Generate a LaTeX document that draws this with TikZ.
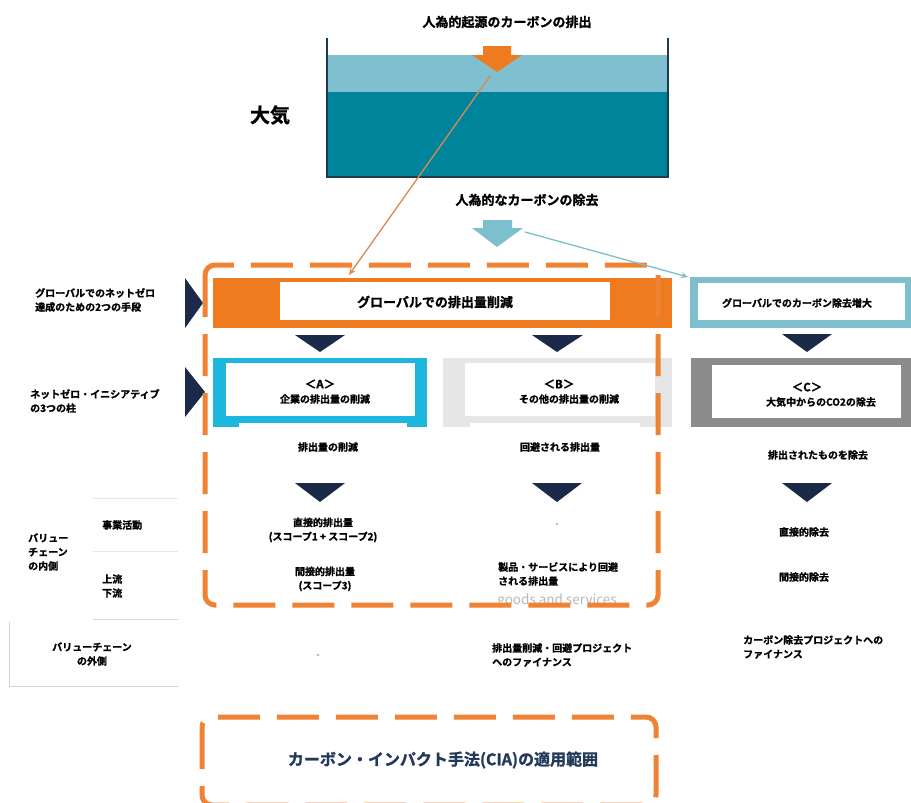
\documentclass[tikz,border=0pt]{standalone}
\usepackage{fontspec}
\setmainfont{Noto Sans CJK JP}[BoldFont={Noto Sans CJK JP Bold},BoldFeatures={FakeBold=1.2}]
\usetikzlibrary{arrows.meta}
\definecolor{orng}{HTML}{EE7B20}
\definecolor{dorng}{HTML}{EF8233}
\definecolor{thinorng}{HTML}{D98A52}
\definecolor{cyanA}{HTML}{1DB6DE}
\definecolor{lblue}{HTML}{7DBFCC}
\definecolor{tanklight}{HTML}{80BFCF}
\definecolor{tankdark}{HTML}{00849B}
\definecolor{tankwall}{HTML}{1E3C4E}
\definecolor{navy}{HTML}{1B2A48}
\definecolor{grayB}{HTML}{E6E6E6}
\definecolor{grayC}{HTML}{8C8C8C}
\definecolor{ciatext}{HTML}{23395A}
\tikzset{
  lbl/.style={font=\bfseries\fontsize{10}{14}\selectfont, inner sep=0pt, align=center},
  lbll/.style={lbl, align=left, anchor=west},
  big/.style={font=\bfseries\fontsize{13}{16}\selectfont, inner sep=0pt},
  scopebox/.style={draw=dorng, line width=5pt, dash pattern=on 42pt off 17pt, rounded corners=10pt},
  faint/.style={draw=gray!18, line width=0.8pt},
  navytri/.style={fill=navy},
}
\begin{document}
\begin{tikzpicture}[x=1pt,y=-1pt]
\useasboundingbox[fill=white] (0,0) rectangle (911,803);

% tank
\fill[tanklight] (327,55) rectangle (668,92);
\fill[tankdark] (327,92) rectangle (668,177);
\draw[tankwall, line width=1.2pt] (327,38) -- (327,177) -- (668,177) -- (668,38);

% orange emission arrow
\fill[orng] (483,46) -- (511,46) -- (511,55) -- (522,55) -- (497,72) -- (472,55) -- (483,55) -- cycle;
% light blue removal arrow
\fill[lblue] (483,220) -- (512,220) -- (512,228) -- (523,228) -- (497,247) -- (472,228) -- (483,228) -- cycle;

\node[big] (emis) at (507,22) {人為的起源のカーボンの排出};
\node[big] (remov) at (527,200) {人為的なカーボンの除去};
\node[font=\bfseries\fontsize{20}{22}\selectfont, inner sep=0pt] (atm) at (270,115) {大気};

% orange bar
\fill[orng] (213,278) rectangle (672,328);
\fill[white] (280,282) rectangle (610,320);
\node[big] (glred) at (435,302) {グローバルでの排出量削減};

% light blue bar
\fill[lblue] (690,277) rectangle (911,328);
\fill[white] (698,283) rectangle (905,320);
\node[lbl] (glrem) at (797,303) {グローバルでのカーボン除去増大};

% box A
\fill[cyanA] (213,358) rectangle (427,427);
\fill[white] (226,363) rectangle (415,416);
\fill[white] (239,423) rectangle (407,428);
\node[lbl, font=\bfseries\fontsize{11.5}{14}\selectfont] (Ah) at (320,384) {＜A＞};
\node[lbl] (At) at (325,399) {企業の排出量の削減};

% box B
\fill[grayB] (443,358) rectangle (672,427);
\fill[white] (465,363) rectangle (655,416);
\fill[white] (470,423) rectangle (640,428);
\node[lbl, font=\bfseries\fontsize{11.5}{14}\selectfont] (Bh) at (559,384) {＜B＞};
\node[lbl] (Bt) at (569,399) {その他の排出量の削減};

% box C
\fill[grayC] (691,358) rectangle (911,427);
\fill[white] (712,365) rectangle (901,418);
\node[lbl, font=\bfseries\fontsize{11.5}{14}\selectfont] (Ch) at (807,387) {＜C＞};
\node[lbl] (Ct) at (821,402) {大気中からのCO2の除去};

% down triangles
\fill[navytri] (295,335) -- (345,335) -- (320,352) -- cycle;
\fill[navytri] (532,335) -- (583,335) -- (557,352) -- cycle;
\fill[navytri] (782,334) -- (832,334) -- (807,352) -- cycle;
\fill[navytri] (295,483) -- (345,483) -- (320,502) -- cycle;
\fill[navytri] (532,483) -- (582,483) -- (557,502) -- cycle;
\fill[navytri] (782,483) -- (832,483) -- (807,502) -- cycle;
% left triangles
\fill[navytri] (185,278) -- (203,303) -- (185,328) -- cycle;
\fill[navytri] (185,367) -- (205,392) -- (185,417) -- cycle;

% row texts
\node[lbl] (redA) at (328,447) {排出量の削減};
\node[lbl] (avB) at (560,447) {回避される排出量};
\node[lbl] (remC) at (818,455) {排出されたものを除去};

\node[lbl] (dirA) at (323,530) {直接的排出量\\(スコープ1 + スコープ2)};
\node[lbl] (indA) at (325,579) {間接的排出量\\(スコープ3)};
\node[lbl] (dirC) at (804,532) {直接的除去};
\node[lbl] (indC) at (804,577) {間接的除去};

\node[font=\fontsize{13.5}{15}\selectfont, text=gray!55, inner sep=0pt] (ghost) at (557,601) {goods and services};
\node[lbll] (prodB) at (498,574) {製品・サービスにより回避\\される排出量};

\node[lbll] (finB) at (492,655) {排出量削減・回避プロジェクト\\へのファイナンス};
\node[lbll] (finC) at (743,647) {カーボン除去プロジェクトへの\\ファイナンス};

% tiny marks
\fill[gray!60] (557,524) ellipse (1.6pt and 1pt);
\fill[gray!60] (318,655) ellipse (1.6pt and 1pt);

% left labels
\node[lbll] (means) at (35,300) {グローバルでのネットゼロ\\達成のための2つの手段};
\node[lbll] (pillars) at (30,401) {ネットゼロ・イニシアティブ\\の3つの柱};
\node[lbll] (biz) at (102,525) {事業活動};
\node[lbll] (inside) at (28,552) {バリュー\\チェーン\\の内側};
\node[lbll] (updown) at (102,586) {上流\\下流};
\node[lbl] (outside) at (92,654) {バリューチェーン\\の外側};

% faint lines
\draw[faint] (93,498) -- (178,498);
\draw[faint] (93,551) -- (178,551);
\draw[faint, draw=gray!30] (93,619) -- (178,619);
\draw[faint, draw=gray!35] (9,622) -- (9,686) -- (178,686);

% dashed scope boxes
\draw[scopebox] (205,265) rectangle (658,605);
\draw[scopebox] (202,717) rectangle (656,805);
\node[font=\bfseries\fontsize{16}{18}\selectfont, text=ciatext, inner sep=0pt] (cia) at (443,760) {カーボン・インパクト手法(CIA)の適用範囲};

% thin connectors
\coordinate (emTip) at (490,76);
\coordinate (glIn) at (349,275);
\draw[thinorng, line width=1.3pt, -{Stealth[length=7pt,width=6pt]}] (emTip) -- (glIn);
\coordinate (rmTip) at (525,232);
\coordinate (rmIn) at (688,277);
\draw[lblue, line width=1.3pt, -{Stealth[length=7pt,width=6pt]}] (rmTip) -- (rmIn);
\end{tikzpicture}
\end{document}
